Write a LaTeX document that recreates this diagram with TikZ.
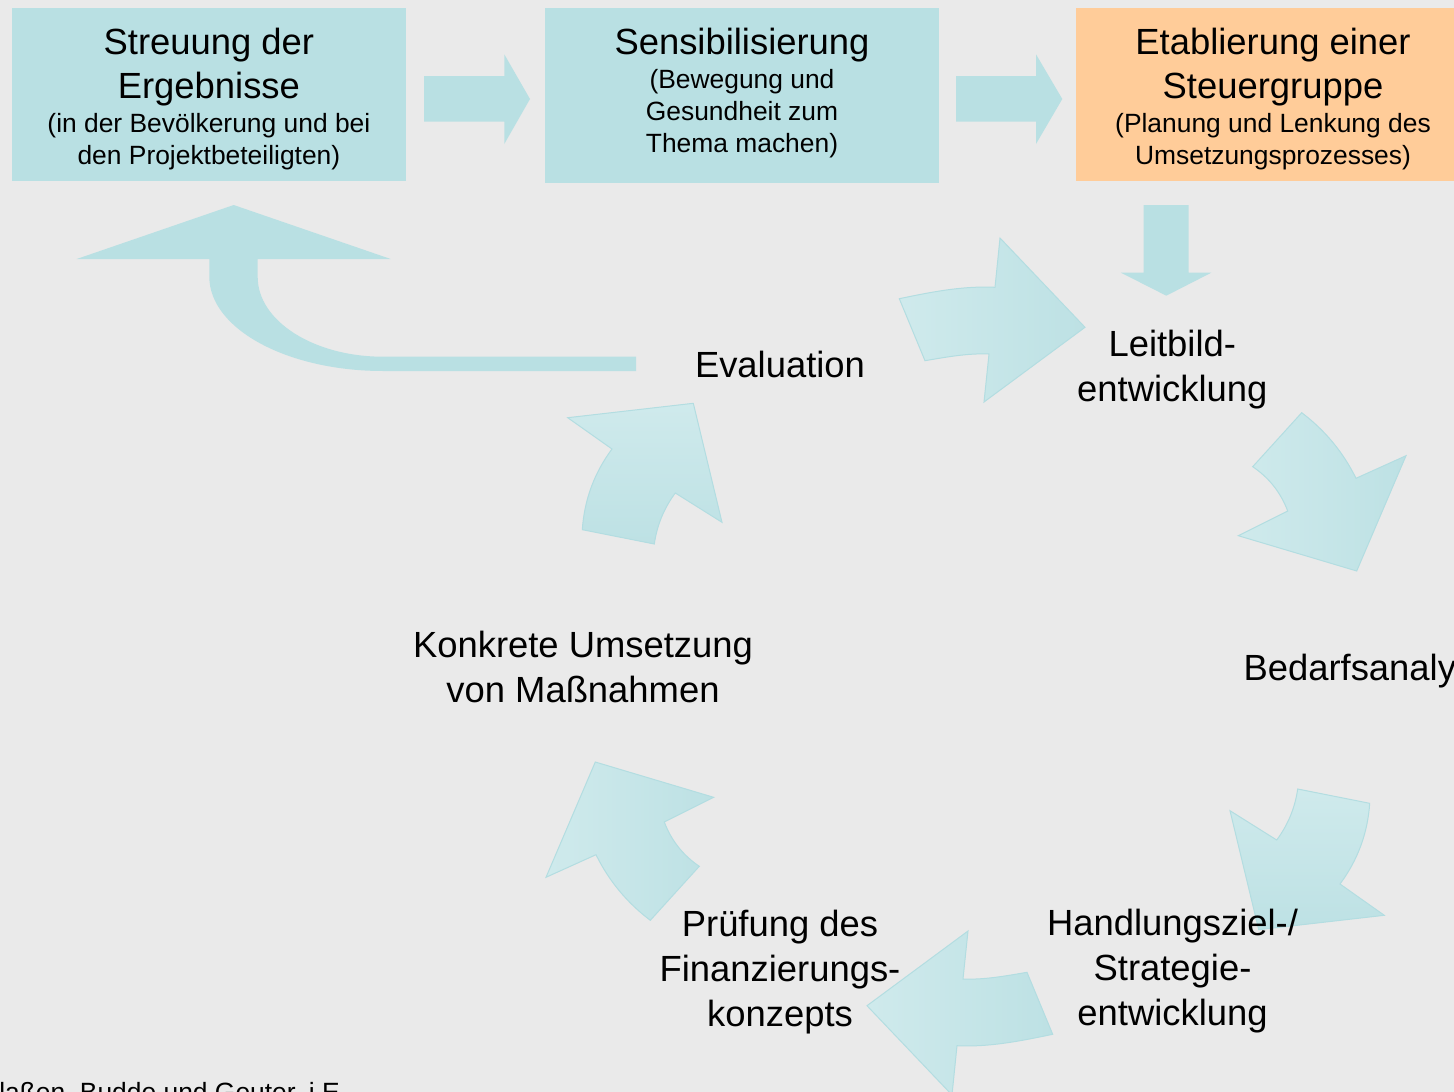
\documentclass[tikz,border=0pt]{standalone}
\usepackage{fontspec}
\setmainfont{Liberation Sans}
\definecolor{bgc}{HTML}{EAEAEA}
\definecolor{boxc}{HTML}{B9E0E3}
\definecolor{orangec}{HTML}{FFCC99}
\definecolor{cycA}{HTML}{CFEAEC}
\definecolor{cycB}{HTML}{BDE1E4}
\definecolor{cycD}{HTML}{B3DDE1}
\newcommand\bigf{\fontsize{27.3}{33.4}\selectfont}
\newcommand\midf{\fontsize{19.8}{25.3}\selectfont}
\newcommand\smf{\fontsize{19.8}{24}\selectfont}
\newcommand\lblf{\fontsize{27.3}{33.75}\selectfont}
\newcommand\stk[1]{\vtop{\hsize=320pt\parindent=0pt\lineskiplimit=-100pt\lineskip=0pt\centering #1\par}}
\newcommand\arrowOne{(899.3,298.7) .. controls (931,292.1) and (962.6,285.7) .. (995,287.3) -- (1000,238) -- (1085,327.3) -- (984,402) -- (989,354) .. controls (967.5,353.1) and (946.3,357.1) .. (925,360.7) -- cycle}
\newcommand\arrowTwo{(1301.7,412.7) .. controls (1325,430.3) and (1343.1,452.1) .. (1356,478.3) -- (1406,455.7) -- (1356.7,571) -- (1238.3,535.7) -- (1287.7,511) .. controls (1280.7,492.5) and (1269.1,477.8) .. (1252.7,466.7) -- cycle}
\newcommand\arrowThree{(1297.7,789) -- (1369.7,803.3) .. controls (1367.7,833.1) and (1357.8,860) .. (1340,884) -- (1384.3,915.3) -- (1258.7,929.7) -- (1230,810.7) -- (1276.7,840) .. controls (1288,824.8) and (1295,807.8) .. (1297.7,789) -- cycle}
\begin{document}
\begin{tikzpicture}[x=0.75pt,y=-0.75pt,
  topbox/.style={draw=none, inner sep=0pt, anchor=north west},
  txt/.style={anchor=base, inner sep=0pt, text=black},
  blockarrow/.style={fill=boxc, draw=none},
  cyc/.style={draw=cycD, line width=0.75pt, line join=miter, left color=cycA, right color=cycB}]
\useasboundingbox (0,0) rectangle (1454,1092);
\clip (0,0) rectangle (1454,1092);
\fill[bgc] (0,0) rectangle (1454,1092);

% top boxes
\node[topbox, fill=boxc, minimum width=295.3pt, minimum height=129.75pt] (b1) at (12,8) {};
\node[topbox, fill=boxc, minimum width=295.5pt, minimum height=131.25pt] (b2) at (545,8) {};
\node[topbox, fill=orangec, minimum width=295.5pt, minimum height=129.75pt] (b3) at (1076,8) {};

\node[txt] (t1) at (208.9,54.3) {\stk{\bigf Streuung der\par Ergebnisse\par\midf (in der Bevölkerung und bei\par\smf den Projektbeteiligten)}};
\node[txt] (t2) at (742,54.3) {\stk{\bigf Sensibilisierung\par\midf (Bewegung und\par\smf Gesundheit zum\par Thema machen)}};
\node[txt] (t3) at (1273,54.3) {\stk{\bigf Etablierung einer\par Steuergruppe\par\midf (Planung und Lenkung des\par\smf Umsetzungsprozesses)}};

% block arrows between boxes
\path[blockarrow] (424,76) -- (504.3,76) -- (504.3,54.3) -- (530,99) -- (504.3,144) -- (504.3,121.7) -- (424,121.7) -- cycle;
\path[blockarrow] (956,76) -- (1036,76) -- (1036,54.3) -- (1062.3,99) -- (1036,144) -- (1036,121.7) -- (956,121.7) -- cycle;
% down arrow
\path[blockarrow] (1143.6,205) -- (1188.6,205) -- (1188.6,272.7) -- (1211.3,272.7) -- (1166.3,295.7) -- (1120.9,272.7) -- (1143.6,272.7) -- cycle;
% return arrow
\path[blockarrow] (636,356.7) -- (383,356.7) .. controls (313.8,356.7) and (257.7,321) .. (257.7,277) -- (257.7,259) -- (390.7,259) -- (233.7,205) -- (76.7,259) -- (209.3,259) -- (209.3,276.7) .. controls (209.3,328.8) and (287.1,371) .. (383,371) -- (636,371) -- cycle;

% cycle arrows
\path[cyc] \arrowOne;
\path[cyc] \arrowTwo;
\path[cyc, shading angle=0] \arrowThree;
\begin{scope}[rotate around={180:(976,666.5)}]
\path[cyc] \arrowOne;
\path[cyc] \arrowTwo;
\path[cyc, shading angle=0] \arrowThree;
\end{scope}

% cycle labels
\node[txt] (n1) at (780,377.3) {\stk{\lblf Evaluation}};
\node[txt] (n2) at (1172.3,356) {\stk{\lblf Leitbild-\par entwicklung}};
\node[txt] (n3) at (1369,680) {\stk{\lblf Bedarfsanalyse}};
\node[txt] (n4) at (1172.5,935.7) {\stk{\lblf Handlungsziel-/\par Strategie-\par entwicklung}};
\node[txt] (n5) at (780,936.7) {\stk{\lblf Prüfung des\par Finanzierungs-\par konzepts}};
\node[txt] (n6) at (583,657.3) {\stk{\lblf Konkrete Umsetzung\par von Maßnahmen}};

% caption
\node[anchor=base west, inner sep=0pt, font=\smf] (cap) at (-1,1101.5) {laßen, Budde und Geuter, i.E.};
\end{tikzpicture}
\end{document}
